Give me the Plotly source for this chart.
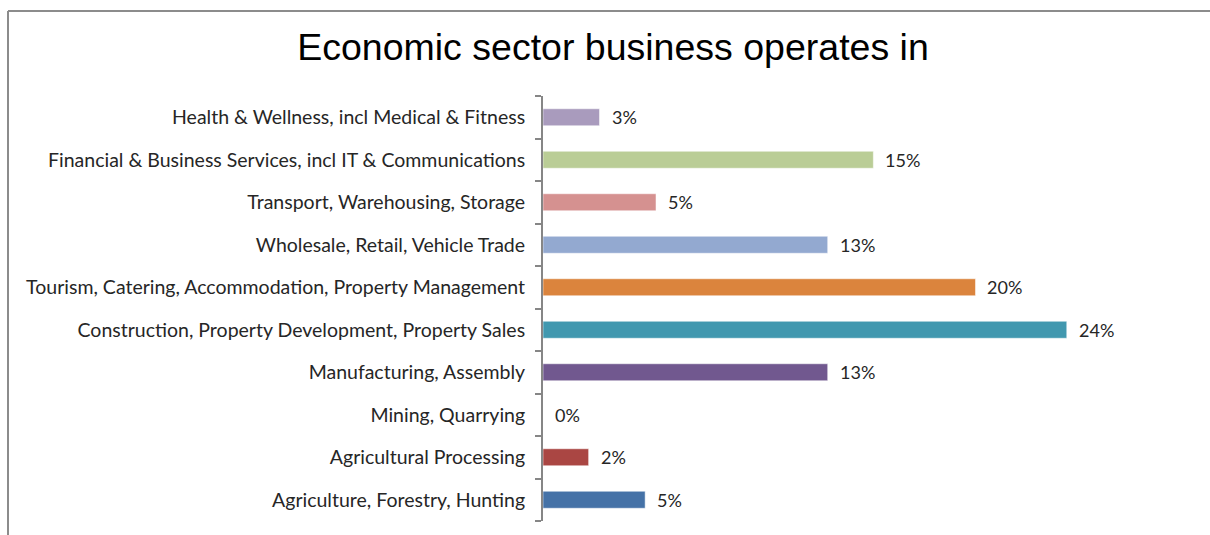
import plotly.graph_objects as go

# Sector shares (percent of businesses), listed bottom to top
sectors = [
    "Agriculture, Forestry, Hunting",
    "Agricultural Processing",
    "Mining, Quarrying",
    "Manufacturing, Assembly",
    "Construction, Property Development, Property Sales",
    "Tourism, Catering, Accommodation, Property Management",
    "Wholesale, Retail, Vehicle Trade",
    "Transport, Warehousing, Storage",
    "Financial & Business Services, incl IT & Communications",
    "Health & Wellness, incl Medical & Fitness",
]
shares = [4.7, 2.1, 0.0, 13.1, 24.1, 19.9, 13.1, 5.2, 15.2, 2.6]
colors = [
    "#4572A7", "#AA4643", "#89A54E", "#71588F", "#4198AF",
    "#DB843D", "#93A9D0", "#D59190", "#BACD96", "#A99BBD",
]

W, H = 1210, 535
ML, MR, MT, MB = 543, 15, 96, 14
PW, PH = W - ML - MR, H - MT - MB

fig = go.Figure(
    go.Bar(
        x=shares,
        y=sectors,
        orientation="h",
        marker=dict(color=colors, line=dict(color="rgba(255,255,255,0.5)", width=1)),
        width=0.4,
        hoverinfo="skip",
    )
)

# value labels to the right of each bar
for s, v in zip(sectors, shares):
    fig.add_annotation(
        x=v, y=s, xref="x", yref="y",
        text=f"{v:.0f}%", showarrow=False,
        xanchor="left", yanchor="middle", xshift=10,
        font=dict(family="Lato", size=18, color="#262626"),
    )

# chart frame (top and left edges)
def px_x(p):
    return (p - ML) / PW

def px_y(p):
    return (H - MB - p) / PH

frame = dict(color="#8C8C8C", width=2)
fig.add_shape(type="line", xref="paper", yref="paper",
              x0=px_x(8), x1=px_x(1210), y0=px_y(11), y1=px_y(11), line=frame)
fig.add_shape(type="line", xref="paper", yref="paper",
              x0=px_x(8), x1=px_x(8), y0=px_y(11), y1=px_y(535), line=frame)

fig.update_layout(
    width=W, height=H,
    margin=dict(l=ML, r=MR, t=MT, b=MB),
    paper_bgcolor="white", plot_bgcolor="white",
    showlegend=False,
    title=dict(
        text="Economic sector business operates in",
        x=(613) / W, xanchor="center",
        y=1 - 47 / H, yanchor="middle",
        font=dict(family="Liberation Sans", size=37.5, color="black"),
    ),
    xaxis=dict(range=[0, 30], visible=False, fixedrange=True),
    yaxis=dict(
        type="category",
        showline=True, linecolor="#868686", linewidth=2,
        ticks="outside", ticklen=6, tickcolor="#868686", tickwidth=2,
        tickson="boundaries",
        showgrid=False, zeroline=False,
        ticklabelstandoff=12,
        tickfont=dict(family="Lato", size=19.5, color="#262626"),
        fixedrange=True,
    ),
)

fig.write_html("out.html")
